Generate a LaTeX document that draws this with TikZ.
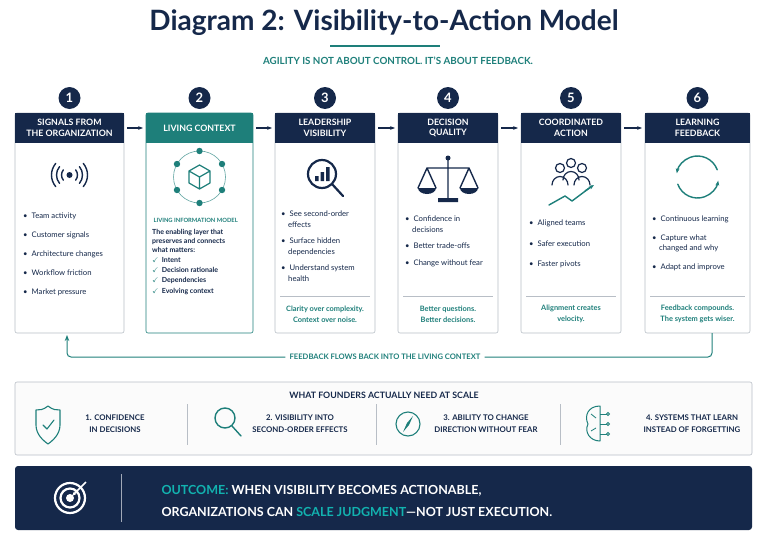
\documentclass[tikz,border=0pt]{standalone}
\usepackage{amssymb}
\usepackage{fontspec}
\setmainfont{Lato}
\usetikzlibrary{arrows.meta,positioning}
\definecolor{navy}{HTML}{15284A}
\definecolor{teal2}{HTML}{1E7F7A}
\definecolor{frame}{HTML}{B8BEC6}
\tikzset{
    box/.style={draw=frame,rounded corners=2pt,fill=white,line width=0.6pt},
    head/.style={fill=#1,text=white,font=\bfseries\fontsize{8.8}{10.5}\selectfont,align=center,inner sep=0pt},
    num/.style={circle,fill=navy,text=white,minimum size=22pt,inner sep=0pt,font=\bfseries\fontsize{13}{13}\selectfont},
    flow/.style={-{Stealth[length=5pt]},navy,line width=1.1pt},
    bul/.style={anchor=north west,align=left,text=navy,font=\fontsize{7.7}{10.5}\selectfont,inner sep=0pt},
    motto/.style={align=center,text=teal2,font=\bfseries\fontsize{7.4}{11}\selectfont},
    need/.style={align=center,text=navy,font=\bfseries\fontsize{7.8}{12}\selectfont},
    ico/.style={line width=1.4pt,draw=#1,line cap=round,line join=round}
}
\begin{document}
\begin{tikzpicture}[x=1pt,y=-1pt]
\useasboundingbox (0,0) rectangle (768,543);
% title
\node (title) at (384,23) {\fontsize{28}{30}\selectfont\bfseries\color{navy}Diagram 2: Visibility-to-Action Model};
\draw[teal2,line width=1.2pt] (330,46) -- (440,46);
\node[text=teal2,font=\bfseries\fontsize{9.8}{11}\selectfont] (sub) at (398,61) {AGILITY IS NOT ABOUT CONTROL. IT'S ABOUT FEEDBACK.};
% six stages
\foreach \i/\xl/\xr/\hc/\bc/\txt in {1/15/124/navy/frame/SIGNALS FROM\\THE ORGANIZATION,
    2/146/253/teal2/teal2/LIVING CONTEXT,
    3/275/375/navy/frame/LEADERSHIP\\VISIBILITY,
    4/398/498/navy/frame/DECISION\\QUALITY,
    5/521/621/navy/frame/COORDINATED\\ACTION,
    6/645/750/navy/frame/LEARNING\\FEEDBACK}{
    \draw[box,draw=\bc] (\xl,113) rectangle (\xr,333);
    \fill[\hc] (\xl,113) rectangle (\xr,143);
    \node[head=\hc] (h\i) at ({(\xl+\xr)/2},128) {\txt};
    \node[num] (n\i) at ({(\xl+\xr)/2},98) {\i};
    \coordinate (l\i) at (\xl,128);
    \coordinate (r\i) at (\xr,128);
}
\foreach \a/\b in {1/2,2/3,3/4,4/5,5/6}
    \draw[flow] ([xshift=3pt]r\a) -- ([xshift=-3pt]l\b);
% box 1
\foreach \rr in {8,13,18}{
    \draw[ico=navy] (69.5,175) ++(40:\rr) arc (40:-40:\rr);
    \draw[ico=navy] (69.5,175) ++(140:\rr) arc (140:220:\rr);}
\fill[navy] (69.5,175) circle (3pt);
\node[bul] (t1) at (23,213) {\textbullet\hspace{4pt}Team activity\\[8.5pt]\textbullet\hspace{4pt}Customer signals\\[8.5pt]\textbullet\hspace{4pt}Architecture changes\\[8.5pt]\textbullet\hspace{4pt}Workflow friction\\[8.5pt]\textbullet\hspace{4pt}Market pressure};
% box 2
\draw[teal2!70,line width=0.6pt] (199.5,177) circle (26);
\foreach \ang in {30,90,...,330}
    \fill[teal2] (199.5,177) ++(\ang:26) circle (3.2pt);
\draw[ico=teal2,line width=1.2pt] (199.5,165) -- (210,171) -- (210,183) -- (199.5,189) -- (189,183) -- (189,171) -- cycle
    (189,171) -- (199.5,177) -- (210,171) (199.5,177) -- (199.5,189);
\node[text=teal2,font=\bfseries\fontsize{5.8}{6}\selectfont,anchor=west] (lim) at (150,220) {LIVING INFORMATION MODEL};
\node[bul,font=\bfseries\fontsize{7}{8.8}\selectfont] (t2) at (152,229) {The enabling layer that\\preserves and connects\\what matters:\\[1.5pt]{\color{teal2}\checkmark}\hspace{3pt}Intent\\[1.5pt]{\color{teal2}\checkmark}\hspace{3pt}Decision rationale\\[1.5pt]{\color{teal2}\checkmark}\hspace{3pt}Dependencies\\[1.5pt]{\color{teal2}\checkmark}\hspace{3pt}Evolving context};
% box 3
\draw[ico=navy,line width=2.2pt] (322,174) circle (14) (332,184) -- (343,196);
\fill[navy] (315,176) rectangle (318.5,181) (320.5,172) rectangle (324,181) (326,167) rectangle (329.5,181);
\node[bul] (t3) at (281,211) {\textbullet\hspace{4pt}See second-order\\\hspace{7pt}effects\\[6pt]\textbullet\hspace{4pt}Surface hidden\\\hspace{7pt}dependencies\\[6pt]\textbullet\hspace{4pt}Understand system\\\hspace{7pt}health};
\draw[frame] (280,296) -- (370,296);
\node[motto] (m3) at (325,314) {Clarity over complexity.\\Context over noise.};
% box 4
\draw[ico=navy] (448,158) -- (448,200) (427,168) -- (469,168)
    (427,168) -- (418,188) (427,168) -- (436,188) (469,168) -- (460,188) (469,168) -- (478,188);
\fill[navy] (418,188) arc (180:0:9 and 6) -- cycle (460,188) arc (180:0:9 and 6) -- cycle;
\fill[navy] (438,198) rectangle (458,202) (448,158) circle (2.5pt);
\node[bul] (t4) at (405,216) {\textbullet\hspace{4pt}Confidence in\\\hspace{7pt}decisions\\[6pt]\textbullet\hspace{4pt}Better trade-offs\\[6pt]\textbullet\hspace{4pt}Change without fear};
\draw[frame] (403,296) -- (493,296);
\node[motto] (m4) at (448,314) {Better questions.\\Better decisions.};
% box 5
\foreach \cx/\cy in {560/168,571/163,582/168}
    \draw[ico=navy,line width=1.2pt] (\cx,\cy) circle (4.5) (\cx-8,\cy+17) arc (180:360:8 and 8.5);
\draw[ico=teal2] (549,205) -- (565,196) -- (572,201) -- (592,186);
\draw[teal2,line width=1.4pt,-{Stealth[length=5pt]}] (585,191) -- (594,185);
\node[bul] (t5) at (529,220) {\textbullet\hspace{4pt}Aligned teams\\[10pt]\textbullet\hspace{4pt}Safer execution\\[10pt]\textbullet\hspace{4pt}Faster pivots};
\draw[frame] (526,296) -- (616,296);
\node[motto] (m5) at (571,314) {Alignment creates\\velocity.};
% box 6
\draw[ico=teal2,-{Stealth[length=5pt]}] (697.5,177) ++(160:21) arc (160:10:21);
\draw[ico=teal2,-{Stealth[length=5pt]}] (697.5,177) ++(-20:21) arc (-20:-170:21);
\node[bul] (t6) at (652,216) {\textbullet\hspace{4pt}Continuous learning\\[8pt]\textbullet\hspace{4pt}Capture what\\\hspace{7pt}changed and why\\[8pt]\textbullet\hspace{4pt}Adapt and improve};
\draw[frame] (650,296) -- (745,296);
\node[motto] (m6) at (697.5,314) {Feedback compounds.\\The system gets wiser.};
% feedback loop
\coordinate (fb6) at (712,333);
\coordinate (fb1) at (67,335);
\node[fill=white,text=teal2,font=\bfseries\fontsize{7.6}{8}\selectfont,inner xsep=4pt] (fb) at (385,357) {FEEDBACK FLOWS BACK INTO THE LIVING CONTEXT};
\draw[teal2,line width=1pt,rounded corners=4pt] (fb.east) -- (712,357) -- (fb6);
\draw[teal2,line width=1pt,rounded corners=4pt,-{Stealth[length=6pt]}] (fb.west) -- (67,357) -- (fb1);
% what founders need
\draw[box,fill=gray!3] (15,382) rectangle (752,455);
\node[text=navy,font=\bfseries\fontsize{8.8}{9}\selectfont] (wf) at (384,395) {WHAT FOUNDERS ACTUALLY NEED AT SCALE};
\foreach \x in {187,376,560} \draw[frame] (\x,404) -- (\x,445);
\draw[ico=teal2,line width=1.1pt] (48,406) .. controls (43,410) and (40,410) .. (36,410) -- (36,425) .. controls (36,435) and (44,441) .. (48,444) .. controls (52,441) and (60,435) .. (60,425) -- (60,410) .. controls (56,410) and (53,410) .. (48,406);
\draw[ico=teal2,line width=1.1pt] (43,425) -- (47,429) -- (54,420);
\node[need] (nd1) at (115,424) {1. CONFIDENCE\\IN DECISIONS};
\draw[ico=teal2] (225,418) circle (10) (232,426) -- (241,436);
\node[need] (nd2) at (300,424) {2. VISIBILITY INTO\\SECOND-ORDER EFFECTS};
\draw[ico=teal2,line width=1.1pt] (408,424) circle (12);
\fill[teal2] (413,416) -- (409,425) -- (403,432) -- (407,423) -- cycle;
\node[need] (nd3) at (486,424) {3. ABILITY TO CHANGE\\DIRECTION WITHOUT FEAR};
\draw[ico=teal2,line width=1pt] (600,406) .. controls (588,406) and (584,416) .. (588,424) .. controls (584,432) and (590,441) .. (600,441) -- (600,406);
\foreach \y in {414,424,434}{
    \draw[teal2,line width=0.8pt] (600,\y) -- (607,\y);
    \draw[teal2,line width=0.8pt] (608,\y) circle (1.5);}
\draw[teal2,line width=0.8pt] (591,414) -- (596,418) (591,431) -- (596,428);
\node[need] (nd4) at (692,424) {4. SYSTEMS THAT LEARN\\INSTEAD OF FORGETTING};
% outcome banner
\fill[navy,rounded corners=3pt] (15,466) rectangle (752,530);
\draw[white,line width=2.2pt] (70,498) circle (15) (70,498) circle (9.5);
\fill[white] (70,498) circle (4);
\draw[white,line width=1.5pt,-{Stealth[length=5pt]}] (86,482) -- (72,496);
\draw[white!60!navy,line width=0.6pt] (121,474) -- (121,522);
\node[anchor=west,text=white,font=\bfseries\fontsize{12.5}{12}\selectfont] (oc1) at (158,491) {{\color{teal2!60!cyan}OUTCOME:} WHEN VISIBILITY BECOMES ACTIONABLE,};
\node[anchor=west,text=white,font=\bfseries\fontsize{12.5}{12}\selectfont] (oc2) at (158,512) {ORGANIZATIONS CAN {\color{teal2!60!cyan}SCALE JUDGMENT}---NOT JUST EXECUTION.};
\end{tikzpicture}
\end{document}
